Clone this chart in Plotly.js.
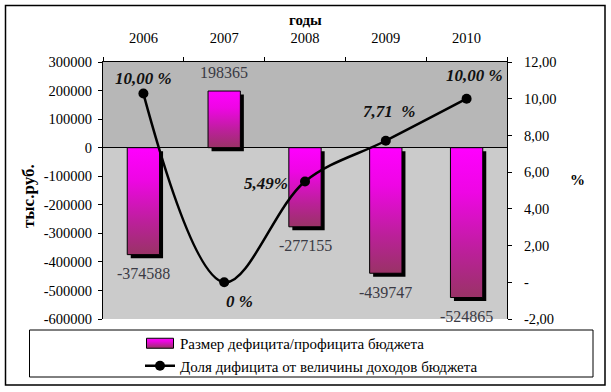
<!DOCTYPE html>
<html><head><meta charset="utf-8">
<script src="https://cdn.plot.ly/plotly-3.0.1.min.js"></script>
<style>html,body{margin:0;padding:0;background:#fff;}#chart{width:611px;height:392px;}</style>
</head><body><div id="chart"></div>
<script>
// ---- data ----
const years = ['2006', '2007', '2008', '2009', '2010'];
const balance = [-374588, 198365, -277155, -439747, -524865];
const balanceLabels = ['-374588', '198365', '-277155', '-439747', '-524865'];
const deficitShare = [10.28, 0, 5.49, 7.71, 10.00];
const shareLabels = ['10,00 %', '0 %', '5,49%', '7,71  %', '10,00 %'];
const leftTickVals = [300000, 200000, 100000, 0, -100000, -200000, -300000, -400000, -500000, -600000];
const leftTickText = leftTickVals.map(String);
const rightTickVals = [12, 10, 8, 6, 4, 2, 0, -2];
const rightTickText = ['12,00', '10,00', '8,00', '6,00', '4,00', '2,00', '-', '-2,00'];
const barName = 'Размер дефицита/профицита бюджета';
const lineName = 'Доля дифицита от величины доходов бюджета';

// ---- geometry / style ----
const W = 611, H = 392;
const M = {l: 103, r: 104, t: 62, b: 73, autoexpand: false};
const PW = W - M.l - M.r, PH = H - M.t - M.b;
const px2x = px => (px - M.l) / PW;
const py2y = py => (M.t + PH - py) / PH;
const yRange = [-600000, 300000];
const y2Range = [-2, 12];
const catRange = [-0.5, years.length - 0.5];
const boundaries = years.map((_, i) => i - 0.5).concat([years.length - 0.5]);
const unitsPerPxY = (yRange[1] - yRange[0]) / PH;
const unitsPerPxX = years.length / PW;
const shadowPx = 3.5;
const barW = 0.4;
const FONT = 'Liberation Serif, "Times New Roman", serif';

const shadow = {
  type: 'bar', x: years, y: balance,
  base: -shadowPx * unitsPerPxY,
  width: barW, offset: -barW / 2 + shadowPx * unitsPerPxX,
  marker: {color: '#000000', line: {width: 0}},
  showlegend: false, hoverinfo: 'skip'
};
const bars = {
  type: 'bar', name: barName, x: years, y: balance,
  width: barW, offset: -barW / 2,
  marker: {color: '#d214b0', line: {color: '#000000', width: 1}}
};
const line = {
  type: 'scatter', name: lineName, x: years, y: deficitShare, yaxis: 'y2',
  mode: 'lines+markers',
  line: {color: '#000000', width: 2.5, shape: 'spline', smoothing: 1},
  marker: {color: '#000000', size: 10}
};

// annotation x on a category axis = category index
const barShift = 19;
const annotations = [];
years.forEach((yr, i) => {
  annotations.push({
    x: i, y: balance[i], xref: 'x', yref: 'y', text: balanceLabels[i], showarrow: false,
    xanchor: 'center', yanchor: 'middle',
    yshift: balance[i] >= 0 ? barShift : -barShift,
    font: {family: FONT, size: 16, color: '#3a3a44'}
  });
});
const lineShiftX = [0, 15, -39, 3, 8];
const lineShiftY = [15, -19, -2, 29, 23];
years.forEach((yr, i) => {
  annotations.push({
    x: i, y: deficitShare[i], xref: 'x', yref: 'y2', text: '<b><i>' + shareLabels[i] + '</i></b>',
    showarrow: false, xanchor: 'center', yanchor: 'middle',
    xshift: lineShiftX[i], yshift: lineShiftY[i],
    font: {family: FONT, size: 17, color: '#111111'}
  });
});
annotations.push(
  {xref: 'paper', yref: 'paper', x: px2x(305), y: py2y(20.5), xanchor: 'center', yanchor: 'middle',
   text: '<b>годы</b>', showarrow: false, font: {family: FONT, size: 15, color: '#000'}},
  {xref: 'paper', yref: 'paper', x: px2x(29), y: py2y(196), xanchor: 'center', yanchor: 'middle',
   text: '<b>тыс.руб.</b>', textangle: -90, showarrow: false, font: {family: FONT, size: 17, color: '#000'}},
  {xref: 'paper', yref: 'paper', x: px2x(577), y: py2y(180), xanchor: 'center', yanchor: 'middle',
   text: '<b>%</b>', showarrow: false, font: {family: FONT, size: 15, color: '#000'}}
);

const shapes = [
  {type: 'rect', layer: 'below', xref: 'paper', yref: 'y', x0: 0, x1: 1, y0: 0, y1: yRange[1],
   fillcolor: '#b7b7b7', line: {width: 0}},
  {type: 'rect', xref: 'paper', yref: 'paper', x0: px2x(29.5), x1: px2x(593), y0: py2y(330), y1: py2y(377),
   line: {color: '#000', width: 1}},
  {type: 'rect', xref: 'paper', yref: 'paper', x0: px2x(5.5), x1: px2x(605), y0: py2y(5.5), y1: py2y(385),
   line: {color: '#000', width: 1.5}}
];

const tickFont = {family: FONT, size: 14.5, color: '#000'};
const layout = {
  width: W, height: H, margin: M,
  paper_bgcolor: '#ffffff', plot_bgcolor: '#cbcbcb',
  barmode: 'overlay', showlegend: true,
  font: {family: FONT, color: '#000'},
  xaxis: {type: 'category', side: 'top', anchor: 'y', range: catRange, tickson: 'boundaries',
          ticks: 'outside', ticklen: 4, tickcolor: '#000', showline: true, linecolor: '#000', linewidth: 1,
          showgrid: false, zeroline: false, tickfont: tickFont, ticklabelstandoff: 12, fixedrange: true},
  xaxis2: {overlaying: 'x', side: 'top', anchor: 'y', range: catRange, tickmode: 'array', tickvals: boundaries,
           ticks: 'inside', ticklen: 4, tickcolor: '#000', showticklabels: false, showline: false,
           showgrid: false, zeroline: false},
  xaxis3: {overlaying: 'x', side: 'bottom', anchor: 'free',
           position: (0 - yRange[0]) / (yRange[1] - yRange[0]),
           range: catRange, tickmode: 'array', tickvals: boundaries,
           ticks: 'inside', ticklen: 4, tickcolor: '#000', showticklabels: false, showline: false,
           showgrid: false, zeroline: false},
  yaxis: {range: yRange, tickmode: 'array', tickvals: leftTickVals, ticktext: leftTickText,
          ticks: 'outside', ticklen: 4, tickcolor: '#000', showline: true, linecolor: '#000', linewidth: 1,
          showgrid: false, zeroline: true, zerolinecolor: '#000', zerolinewidth: 1,
          tickfont: tickFont, ticklabelstandoff: 3, fixedrange: true},
  yaxis2: {overlaying: 'y', side: 'right', range: y2Range, tickmode: 'array', tickvals: rightTickVals,
           ticktext: rightTickText, ticks: 'outside', ticklen: 4, tickcolor: '#000', showline: true,
           linecolor: '#000', linewidth: 1, showgrid: false, zeroline: false, tickfont: tickFont,
           ticklabelstandoff: 9, fixedrange: true},
  yaxis3: {overlaying: 'y', side: 'left', anchor: 'x', range: yRange, tickmode: 'array', tickvals: leftTickVals,
           ticks: 'inside', ticklen: 4, tickcolor: '#000', showticklabels: false, showline: false,
           showgrid: false, zeroline: false},
  yaxis4: {overlaying: 'y', side: 'right', anchor: 'x', range: y2Range, tickmode: 'array', tickvals: rightTickVals,
           ticks: 'inside', ticklen: 4, tickcolor: '#000', showticklabels: false, showline: false,
           showgrid: false, zeroline: false},
  legend: {x: px2x(140), y: py2y(327), xanchor: 'left', yanchor: 'top', orientation: 'v',
           bgcolor: 'rgba(0,0,0,0)', borderwidth: 0, font: {family: FONT, size: 15, color: '#000'},
           traceorder: 'normal'},
  annotations: annotations,
  shapes: shapes
};

Plotly.newPlot('chart', [shadow, bars, line], layout, {staticPlot: true, displayModeBar: false}).then(gd => {
  const ns = 'http://www.w3.org/2000/svg';
  const svg = gd.querySelector('svg.main-svg');
  let defs = svg.querySelector('defs');
  if (!defs) { defs = document.createElementNS(ns, 'defs'); svg.insertBefore(defs, svg.firstChild); }
  const lg = document.createElementNS(ns, 'linearGradient');
  lg.setAttribute('id', 'barGrad');
  lg.setAttribute('x1', '0'); lg.setAttribute('y1', '0'); lg.setAttribute('x2', '0'); lg.setAttribute('y2', '1');
  [['0', '#ff00ff'], ['0.3', '#ee06e4'], ['0.7', '#bb2099'], ['1', '#993366']].forEach(([o, c]) => {
    const s = document.createElementNS(ns, 'stop');
    s.setAttribute('offset', o); s.setAttribute('stop-color', c);
    lg.appendChild(s);
  });
  defs.appendChild(lg);
  const barTraces = gd.querySelectorAll('.barlayer .trace');
  if (barTraces[1]) barTraces[1].querySelectorAll('path').forEach(p => { p.style.fill = 'url(#barGrad)'; });
  const legTraces = gd.querySelectorAll('.legend .traces');
  if (legTraces[0]) {
    const p = legTraces[0].querySelector('.legendpoints path');
    if (p) { p.setAttribute('d', 'M-13.5,-5h27v10h-27Z'); p.style.fill = 'url(#barGrad)'; }
  }
});
</script>
</body></html>
